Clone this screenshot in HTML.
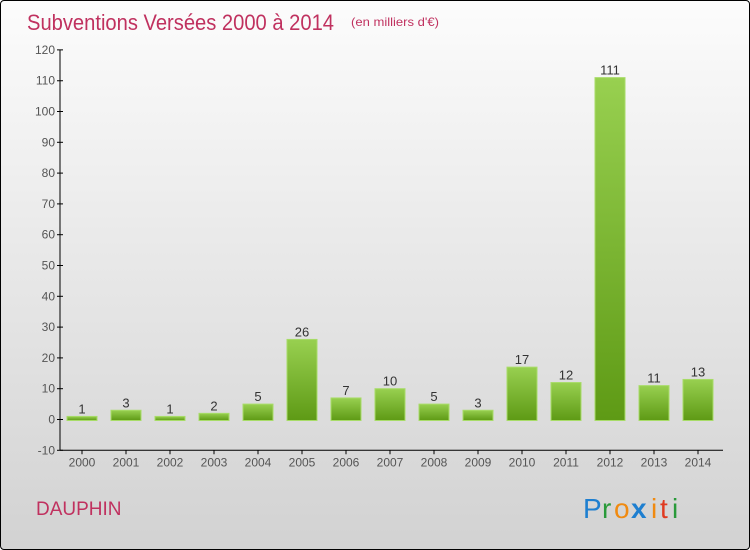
<!DOCTYPE html>
<html><head><meta charset="utf-8"><style>
body{margin:0;}
#c{position:relative;width:748px;height:548px;border:1px solid #000;border-radius:4px;background:linear-gradient(#fcfcfc,#d2d2d2);overflow:hidden;font-family:"Liberation Sans",sans-serif;}
</style></head><body>
<div id="c">
<svg width="748" height="548" id="svg">
<defs><linearGradient id="g" x1="0" y1="0" x2="0" y2="1"><stop offset="0" stop-color="#98d050"/><stop offset="1" stop-color="#5e9a15"/></linearGradient></defs>
<text x="26" y="29" font-size="22" fill="#c0315f" textLength="307" lengthAdjust="spacingAndGlyphs">Subventions Versées 2000 à 2014</text>
<text x="350" y="25" font-size="12" fill="#c0315f" textLength="88" lengthAdjust="spacingAndGlyphs">(en milliers d'€)</text>
<text x="35" y="514" font-size="19" fill="#c0315f">DAUPHIN</text>
<g font-size="28" font-family="Liberation Sans,sans-serif">
<text x="582" y="517" fill="#1e7fd0">P</text><text x="601" y="517" fill="#2a9a3a">r</text><text x="613" y="517" fill="#f08a10">o</text><text x="630" y="517" fill="#1e7fd0" font-weight="bold">x</text><text x="650" y="517" fill="#f08a10">i</text><text x="659" y="517" fill="#e03a20">t</text><text x="671" y="517" fill="#2a9a3a">i</text></g>
<g id="axes"></g><g id="bars"></g>
</svg></div>
<script>
const years=["2000","2001","2002","2003","2004","2005","2006","2007","2008","2009","2010","2011","2012","2013","2014"];
const values=[1,3,1,2,5,26,7,10,5,3,17,12,111,11,13];
const yTicks=[-10,0,10,20,30,40,50,60,70,80,90,100,110,120];
const NS="http://www.w3.org/2000/svg";
const y=v=>418.5-v*3.08;
const x=i=>81+44*i;
function mk(t,a,p){const e=document.createElementNS(NS,t);for(const k in a)e.setAttribute(k,a[k]);p.appendChild(e);return e;}
const ax=document.getElementById('axes'),bs=document.getElementById('bars');
const yl=mk('line',{x1:59,y1:y(120),x2:59,y2:y(-10),stroke:'#000'},ax);


const xl=mk('line',{x1:59,y1:y(-10),x2:722,y2:y(-10),stroke:'#000'},ax);


yTicks.forEach(t=>{
  mk('line',{x1:56,y1:y(t),x2:62,y2:y(t),stroke:'#000'},ax);
  const tx=mk('text',{x:54,y:y(t)+4,'font-size':12,fill:'#555','text-anchor':'end'},ax);
  tx.textContent=t;
  
  
});
years.forEach((yr,i)=>{
  mk('line',{x1:x(i),y1:y(-10),x2:x(i),y2:y(-10)+4,stroke:'#000'},ax);
  const tx=mk('text',{x:x(i),y:y(-10)+16,'font-size':12,fill:'#555','text-anchor':'middle'},ax);
  tx.textContent=yr;
  
  
  const v=values[i];
  const r=mk('rect',{x:x(i)-15,y:y(v),width:30,height:y(0)-y(v)+1,fill:'url(#g)',stroke:'#a8dc68','stroke-width':1},bs);
  
  
  const lb=mk('text',{x:x(i),y:y(v)-3,'font-size':13,fill:'#333','text-anchor':'middle'},bs);
  lb.textContent=v;
  
  
});
</script>
</body></html>
